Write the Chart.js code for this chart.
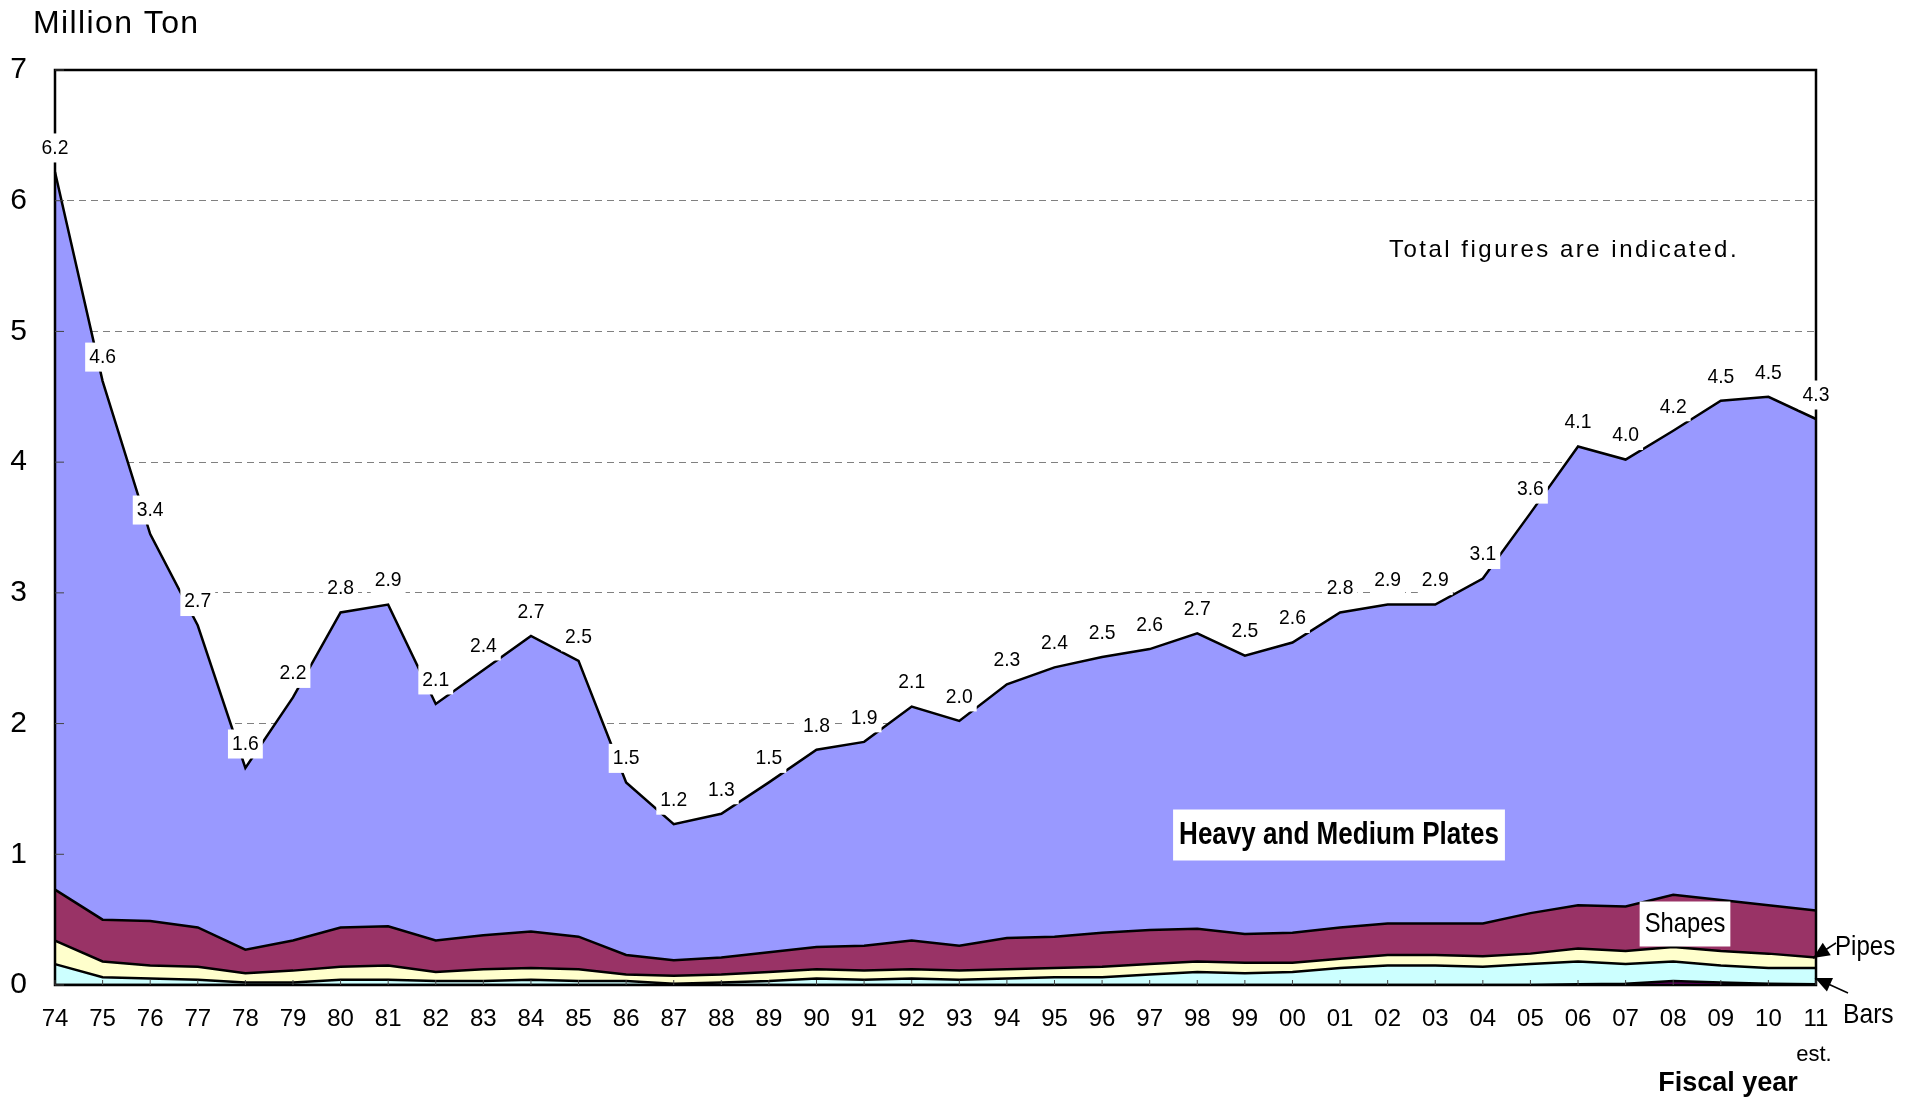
<!DOCTYPE html>
<html>
<head>
<meta charset="utf-8">
<script src="https://cdn.jsdelivr.net/npm/chart.js@4.4.1/dist/chart.umd.min.js"></script>
<style>
    body { margin: 0; background: #fff; }
    #wrap { width: 1916px; height: 1101px; position: relative; }
</style>
</head>
<body>
<div id="wrap"><canvas id="chart"></canvas></div>
<script>
const years = ["74","75","76","77","78","79","80","81","82","83","84","85","86","87","88","89","90","91","92","93",
    "94","95","96","97","98","99","00","01","02","03","04","05","06","07","08","09","10","11"];

// thin dark strip at the very bottom (only visible around 06-11)
const other = [0,0,0,0,0,0,0,0,0,0,0,0,0,0,0,0,0,0,0,0,0,0,0,0,0,0,0,0,0,0,0,0,0.005,0.01,0.03,0.02,0.01,0.005];
const bars = [0.16,0.06,0.05,0.04,0.02,0.02,0.04,0.04,0.03,0.03,0.04,0.03,0.03,0.01,0.02,0.03,0.05,0.04,0.05,0.04,
    0.05,0.06,0.06,0.08,0.10,0.09,0.10,0.13,0.15,0.15,0.14,0.16,0.175,0.15,0.15,0.13,0.12,0.125];
const pipes = [0.18,0.12,0.10,0.10,0.07,0.09,0.10,0.11,0.07,0.09,0.09,0.09,0.05,0.06,0.06,0.07,0.07,0.07,0.07,0.07,
    0.07,0.07,0.08,0.08,0.08,0.08,0.07,0.07,0.08,0.08,0.08,0.08,0.10,0.10,0.11,0.11,0.11,0.08];
const shapes = [0.39,0.32,0.34,0.30,0.18,0.23,0.30,0.30,0.24,0.26,0.28,0.25,0.15,0.12,0.13,0.15,0.17,0.19,0.22,0.19,
    0.24,0.24,0.26,0.26,0.25,0.22,0.23,0.24,0.24,0.24,0.25,0.31,0.33,0.34,0.40,0.39,0.37,0.36];
const plates = [5.49,4.12,2.96,2.31,1.39,1.86,2.41,2.46,1.81,2.03,2.26,2.11,1.32,1.04,1.10,1.30,1.51,1.56,1.79,1.72,
    1.94,2.06,2.11,2.15,2.26,2.13,2.22,2.41,2.44,2.44,2.64,3.06,3.51,3.42,3.55,3.82,3.89,3.76];
const totalLabels = ["6.2","4.6","3.4","2.7","1.6","2.2","2.8","2.9","2.1","2.4","2.7","2.5","1.5","1.2","1.3","1.5",
    "1.8","1.9","2.1","2.0","2.3","2.4","2.5","2.6","2.7","2.5","2.6","2.8","2.9","2.9","3.1","3.6","4.1","4.0","4.2","4.5","4.5","4.3"];
const yTicks = [0, 1, 2, 3, 4, 5, 6, 7];

const sans = '"Liberation Sans", Arial, sans-serif';

function arrow(ctx, x1, y1, x2, y2) {
    ctx.beginPath();
    ctx.moveTo(x1, y1);
    ctx.lineTo(x2, y2);
    ctx.stroke();
    const ang = Math.atan2(y2 - y1, x2 - x1);
    const len = 18, half = 0.42;
    ctx.beginPath();
    ctx.moveTo(x2, y2);
    ctx.lineTo(x2 - len * Math.cos(ang - half), y2 - len * Math.sin(ang - half));
    ctx.lineTo(x2 - len * Math.cos(ang + half), y2 - len * Math.sin(ang + half));
    ctx.closePath();
    ctx.fill();
}

// text squeezed horizontally (the original uses a narrow gothic face)
function squeezed(ctx, text, x, y, font, sx) {
    ctx.save();
    ctx.font = font;
    ctx.translate(x, y);
    ctx.scale(sx, 1);
    ctx.fillText(text, 0, 0);
    ctx.restore();
}

function boxedText(ctx, text, cx, cy, font, sx, padX, h) {
    ctx.font = font;
    const w = ctx.measureText(text).width * sx + padX * 2;
    ctx.fillStyle = "#fff";
    ctx.fillRect(cx - w / 2, cy - h / 2, w, h);
    ctx.fillStyle = "#000";
    squeezed(ctx, text, cx, cy, font, sx);
}

const overlay = {
    id: "overlay",
    afterDatasetsDraw(chart) {
        const ctx = chart.ctx;
        const a = chart.chartArea;
        const x = chart.scales.x;
        const y = chart.scales.y;
        ctx.save();

        // frame round the plot
        ctx.strokeStyle = "#000";
        ctx.lineWidth = 2.5;
        ctx.strokeRect(a.left, a.top, a.right - a.left, a.bottom - a.top);

        // inward tick marks
        ctx.lineWidth = 1;
        ctx.strokeStyle = "#444";
        ctx.beginPath();
        years.forEach((_, i) => {
            const px = x.getPixelForValue(i);
            ctx.moveTo(px, a.bottom);
            ctx.lineTo(px, a.bottom - 5);
        });
        yTicks.forEach(v => {
            const py = y.getPixelForValue(v);
            ctx.moveTo(a.left, py);
            ctx.lineTo(a.left + 9, py);
        });
        ctx.stroke();

        // total labels with white boxes
        ctx.textAlign = "center";
        ctx.textBaseline = "middle";
        years.forEach((_, i) => {
            const sum = other[i] + bars[i] + pipes[i] + shapes[i] + plates[i];
            const px = x.getPixelForValue(i);
            const py = y.getPixelForValue(sum);
            boxedText(ctx, totalLabels[i], px, py - 24, "21px " + sans, 0.92, 4, 29);
        });

        // series names
        boxedText(ctx, "Heavy and Medium Plates", 1339, 835, "bold 31px " + sans, 0.84, 6, 51);
        boxedText(ctx, "Shapes", 1685, 924, "28px " + sans, 0.85, 5, 45);

        ctx.fillStyle = "#000";
        ctx.textAlign = "left";
        squeezed(ctx, "Pipes", 1835, 947, "28px " + sans, 0.86);
        squeezed(ctx, "Bars", 1843, 1015, "28px " + sans, 0.88);
        ctx.lineWidth = 1.5;
        ctx.strokeStyle = "#000";
        arrow(ctx, 1836, 943, 1813, 958);
        arrow(ctx, 1848, 993, 1815, 978);

        ctx.textAlign = "center";
        ctx.font = "24px " + sans;
        ctx.letterSpacing = "2.5px";
        ctx.fillText("Total figures are indicated.", 1564, 250);
        ctx.letterSpacing = "0px";
        ctx.font = "22px " + sans;
        ctx.fillText("est.", 1814, 1055);
        ctx.font = "bold 27px " + sans;
        ctx.fillText("Fiscal year", 1728, 1084);
        ctx.textAlign = "left";
        ctx.font = "32px " + sans;
        ctx.letterSpacing = "1.4px";
        ctx.fillText("Million Ton", 33, 24);
        ctx.letterSpacing = "0px";

        ctx.restore();
    }
};

const ctx = document.getElementById("chart");

const chart = new Chart(ctx, {
    type: "line",
    data: {
        labels: years,
        datasets: [
            { label: "Other", data: other, backgroundColor: "#660066", fill: "origin" },
            { label: "Bars", data: bars, backgroundColor: "#CCFFFF", fill: "-1" },
            { label: "Pipes", data: pipes, backgroundColor: "#FFFFCC", fill: "-1" },
            { label: "Shapes", data: shapes, backgroundColor: "#993366", fill: "-1" },
            { label: "Heavy and Medium Plates", data: plates, backgroundColor: "#9999FF", fill: "-1" }
        ]
    },
    options: {
        responsive: true,
        maintainAspectRatio: false,
        animation: false,
        devicePixelRatio: 1,
        layout: { padding: { top: 70, right: 100, bottom: 0, left: 0 } },
        elements: {
            line: { borderColor: "#000", borderWidth: 2.5, tension: 0 },
            point: { radius: 0, hoverRadius: 0 }
        },
        plugins: {
            legend: { display: false },
            tooltip: { enabled: false }
        },
        scales: {
            x: {
                offset: false,
                grid: { display: false, drawTicks: false },
                border: { display: false },
                ticks: {
                    color: "#000",
                    font: { family: sans, size: 24 },
                    padding: 20,
                    maxRotation: 0,
                    autoSkip: false
                },
                afterFit(scale) { scale.height = 116; }
            },
            y: {
                stacked: true,
                min: 0,
                max: 7,
                grid: {
                    color: ctx => (ctx.tick.value === 0 || ctx.tick.value === 7) ? "rgba(0,0,0,0)" : "#808080",
                    lineWidth: 1,
                    drawTicks: false
                },
                border: { display: false, dash: [7, 5] },
                ticks: {
                    stepSize: 1,
                    color: "#000",
                    font: { family: sans, size: 30 },
                    padding: 28
                },
                afterFit(scale) { scale.width = 55; }
            }
        }
    },
    plugins: [overlay]
});
</script>
</body>
</html>
